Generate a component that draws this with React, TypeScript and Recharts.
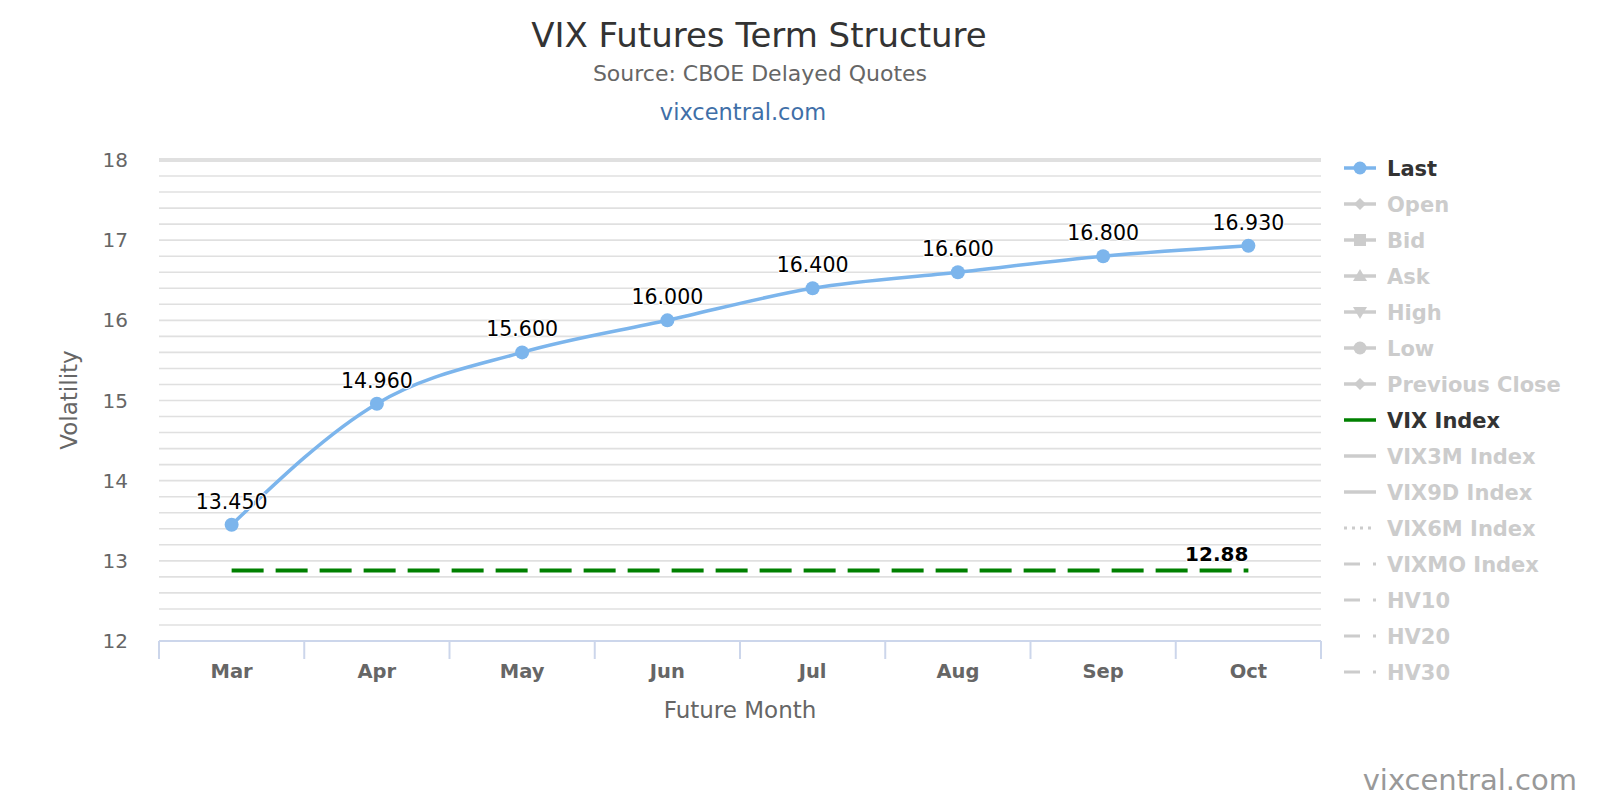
import {
  ComposedChart,
  CartesianGrid,
  XAxis,
  YAxis,
  Line,
  LabelList,
  ReferenceLine,
} from "recharts";

// values
const categories = ["Mar", "Apr", "May", "Jun", "Jul", "Aug", "Sep", "Oct"];
const lastValues = [13.45, 14.96, 15.6, 16.0, 16.4, 16.6, 16.8, 16.93];
const vixIndexValues = [12.88, 12.88, 12.88, 12.88, 12.88, 12.88, 12.88, 12.88];
const yTicks = [
  12, 12.2, 12.4, 12.6, 12.8, 13, 13.2, 13.4, 13.6, 13.8, 14, 14.2, 14.4, 14.6,
  14.8, 15, 15.2, 15.4, 15.6, 15.8, 16, 16.2, 16.4, 16.6, 16.8, 17, 17.2, 17.4,
  17.6, 17.8, 18,
];

const legendItems = [
  { name: "Last", symbol: "circle", active: true, color: "#7cb5ec" },
  { name: "Open", symbol: "diamond", active: false },
  { name: "Bid", symbol: "square", active: false },
  { name: "Ask", symbol: "triangle", active: false },
  { name: "High", symbol: "triangle-down", active: false },
  { name: "Low", symbol: "circle", active: false },
  { name: "Previous Close", symbol: "diamond", active: false },
  { name: "VIX Index", symbol: "line", active: true, color: "#008000" },
  { name: "VIX3M Index", symbol: "line", active: false },
  { name: "VIX9D Index", symbol: "line", active: false },
  { name: "VIX6M Index", symbol: "dot", active: false },
  { name: "VIXMO Index", symbol: "dashdot", active: false },
  { name: "HV10", symbol: "dashdot", active: false },
  { name: "HV20", symbol: "dashdot", active: false },
  { name: "HV30", symbol: "dashdot", active: false },
];

const data = categories.map((month, i) => ({
  month,
  last: lastValues[i],
  vix: vixIndexValues[i],
}));

const FONT = "DejaVu Sans, Verdana, sans-serif";
const PLOT_LEFT = 159;
const PLOT_RIGHT = 1321;
const BAND = (PLOT_RIGHT - PLOT_LEFT) / categories.length;

function XTick(props: any) {
  const { x, y, payload, index } = props;
  const half = BAND / 2;
  return (
    <g>
      <line x1={x - half} x2={x - half} y1={y - 8} y2={y + 10} stroke="#ccd6eb" strokeWidth={2} />
      {index === categories.length - 1 && (
        <line x1={x + half} x2={x + half} y1={y - 8} y2={y + 10} stroke="#ccd6eb" strokeWidth={2} />
      )}
      <text x={x} y={y + 29} textAnchor="middle" fontFamily={FONT} fontSize={19.5} fontWeight="bold" fill="#666">
        {payload.value}
      </text>
    </g>
  );
}

function YTick(props: any) {
  const { x, y, payload } = props;
  if (!Number.isInteger(payload.value)) return <g />;
  return (
    <text x={x - 23} y={y} dy="0.35em" textAnchor="end" fontFamily={FONT} fontSize={20} fill="#666">
      {payload.value}
    </text>
  );
}

function LastLabel(props: any) {
  const { x, y, value } = props;
  return (
    <text
      x={x}
      y={y - 16}
      textAnchor="middle"
      fontFamily={FONT}
      fontSize={20.5}
      fill="#000"
      stroke="#fff"
      strokeWidth={2}
      paintOrder="stroke"
    >
      {Number(value).toFixed(3)}
    </text>
  );
}

function VixLabel(props: any) {
  const { x, y, value, index } = props;
  if (index !== categories.length - 1) return <g />;
  return (
    <text
      x={x}
      y={y - 9}
      textAnchor="end"
      fontFamily={FONT}
      fontSize={20}
      fontWeight="bold"
      fill="#000"
      stroke="#fff"
      strokeWidth={2}
      paintOrder="stroke"
    >
      {Number(value).toFixed(2)}
    </text>
  );
}

function LegendSymbol({ item, cy }: { item: any; cy: number }) {
  const c = item.active ? item.color : "#cccccc";
  const x1 = 1344;
  const x2 = 1376;
  const cx = 1360;
  let line = <line x1={x1} x2={x2} y1={cy} y2={cy} stroke={c} strokeWidth={3.5} />;
  if (item.symbol === "dot")
    line = <line x1={x1} x2={x2} y1={cy} y2={cy} stroke={c} strokeWidth={3} strokeDasharray="3 5" />;
  if (item.symbol === "dashdot")
    line = <line x1={x1} x2={x2} y1={cy} y2={cy} stroke={c} strokeWidth={3} strokeDasharray="16 13 3 20" />;
  let marker: any = null;
  if (item.symbol === "circle") marker = <circle cx={cx} cy={cy} r={6.5} fill={c} />;
  if (item.symbol === "diamond")
    marker = <path d={`M${cx} ${cy - 6}L${cx + 6} ${cy}L${cx} ${cy + 6}L${cx - 6} ${cy}Z`} fill={c} />;
  if (item.symbol === "square") marker = <rect x={cx - 6} y={cy - 6} width={12} height={12} fill={c} />;
  if (item.symbol === "triangle")
    marker = <path d={`M${cx} ${cy - 7}L${cx + 7} ${cy + 5}L${cx - 7} ${cy + 5}Z`} fill={c} />;
  if (item.symbol === "triangle-down")
    marker = <path d={`M${cx - 7} ${cy - 5}L${cx + 7} ${cy - 5}L${cx} ${cy + 7}Z`} fill={c} />;
  return (
    <g>
      {line}
      {marker}
    </g>
  );
}

export default function App() {
  return (
    <div style={{ position: "absolute", left: 0, top: 0, width: 1600, height: 800, background: "#fff" }}>
      <ComposedChart
        width={1600}
        height={800}
        data={data}
        margin={{ top: 160, right: 1600 - PLOT_RIGHT, left: PLOT_LEFT - 60, bottom: 800 - 641 - 60 }}
      >
        <CartesianGrid vertical={false} stroke="#e0e0e0" strokeWidth={1.6} strokeDasharray="" />
        <ReferenceLine y={18} stroke="#e0e0e0" strokeWidth={4} />
        <XAxis
          dataKey="month"
          scale="band"
          height={60}
          interval={0}
          tickSize={8}
          tickMargin={0}
          tickLine={false}
          axisLine={{ stroke: "#ccd6eb", strokeWidth: 2 }}
          tick={<XTick />}
        />
        <YAxis
          width={60}
          domain={[12, 18]}
          ticks={yTicks}
          interval={0}
          tickSize={8}
          tickMargin={0}
          tickLine={false}
          axisLine={false}
          tick={<YTick />}
        />
        <Line
          dataKey="vix"
          type="linear"
          stroke="#008000"
          strokeWidth={4}
          strokeDasharray="32 12"
          dot={false}
          activeDot={false}
          isAnimationActive={false}
        >
          <LabelList dataKey="vix" content={<VixLabel />} />
        </Line>
        <Line
          dataKey="last"
          type="monotone"
          stroke="#7cb5ec"
          strokeWidth={3.5}
          dot={{ r: 7, fill: "#7cb5ec", stroke: "none" }}
          activeDot={false}
          isAnimationActive={false}
        >
          <LabelList dataKey="last" content={<LastLabel />} />
        </Line>
      </ComposedChart>

      <svg
        width={1600}
        height={800}
        style={{ position: "absolute", left: 0, top: 0, pointerEvents: "none" }}
        fontFamily={FONT}
      >
        <text x={759} y={47} textAnchor="middle" fontSize={34} fill="#333">
          VIX Futures Term Structure
        </text>
        <text x={760} y={81} textAnchor="middle" fontSize={22} fill="#666">
          Source: CBOE Delayed Quotes
        </text>
        <text x={743} y={120} textAnchor="middle" fontSize={22.5} fill="#3f6fa8">
          vixcentral.com
        </text>
        <text x={77} y={400} textAnchor="middle" fontSize={23} fill="#666" transform="rotate(-90 77 400)">
          Volatility
        </text>
        <text x={740} y={718} textAnchor="middle" fontSize={23} fill="#666">
          Future Month
        </text>
        <text x={1577} y={790} textAnchor="end" fontSize={29} fill="#999">
          vixcentral.com
        </text>
        {legendItems.map((item, i) => {
          const cy = 168 + i * 36;
          return (
            <g key={item.name}>
              <LegendSymbol item={item} cy={cy} />
              <text
                x={1387}
                y={cy}
                dy="0.36em"
                fontSize={21}
                fontWeight="bold"
                fill={item.active ? "#333333" : "#cccccc"}
              >
                {item.name}
              </text>
            </g>
          );
        })}
      </svg>
    </div>
  );
}
